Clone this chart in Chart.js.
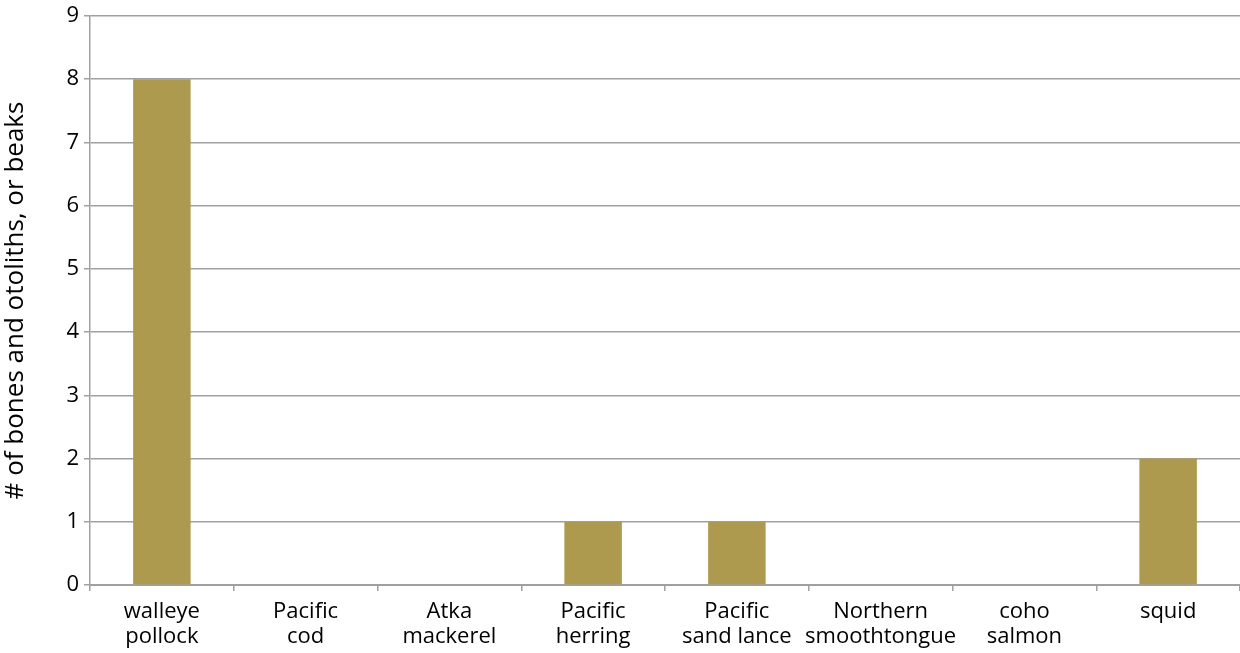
<!DOCTYPE html>
<html>
<head>
<meta charset="utf-8">
<script src="https://cdn.jsdelivr.net/npm/chart.js@4"></script>
<style>
  html, body { margin: 0; padding: 0; background: #fff; }
  #wrap { width: 1240px; height: 653px; position: relative; }
</style>
</head>
<body>
<div id="wrap"><canvas id="preyChart"></canvas></div>
<script>
const categories = [
  ['walleye', 'pollock'],
  ['Pacific', 'cod'],
  ['Atka', 'mackerel'],
  ['Pacific', 'herring'],
  ['Pacific', 'sand lance'],
  ['Northern', 'smoothtongue'],
  ['coho', 'salmon'],
  'squid'
];
const counts = [8, 0, 0, 1, 1, 0, 0, 2];
const yTicks = [0, 1, 2, 3, 4, 5, 6, 7, 8, 9];

const gridGray = '#a0a0a0';
const fontFamily = '"Open Sans", Lato, sans-serif';

document.addEventListener("DOMContentLoaded", () => {
  const ctx = document.getElementById('preyChart');
  if (!ctx) return;

  new Chart(ctx, {
    type: 'bar',
    data: {
      labels: categories,
      datasets: [{
        label: 'count',
        data: counts,
        backgroundColor: '#ad9a4e',
        borderWidth: 0,
        barPercentage: 0.4,
        categoryPercentage: 1
      }]
    },
    options: {
      responsive: true,
      maintainAspectRatio: false,
      animation: false,
      layout: { padding: { top: 15, right: 0, left: 0, bottom: 0 } },
      plugins: {
        legend: { display: false },
        tooltip: { enabled: false }
      },
      scales: {
        x: {
          grid: {
            display: true,
            drawOnChartArea: false,
            offset: true,
            color: gridGray,
            lineWidth: 1.5,
            tickLength: 6
          },
          border: { color: gridGray, width: 2 },
          ticks: {
            color: '#000',
            font: { family: fontFamily, size: 22, lineHeight: 1.15 },
            maxRotation: 0,
            autoSkip: false,
            padding: 8
          },
          afterFit: (scale) => { scale.height = 68; }
        },
        y: {
          min: 0,
          max: 9,
          afterBuildTicks: (scale) => {
            scale.ticks = yTicks.map(v => ({ value: v }));
          },
          grid: {
            color: gridGray,
            lineWidth: 1.5,
            tickLength: 6
          },
          border: { color: gridGray, width: 1.5 },
          ticks: {
            color: '#000',
            font: { family: fontFamily, size: 22, lineHeight: 1 },
            padding: 5
          },
          title: {
            display: true,
            text: '# of bones and otoliths, or beaks',
            color: '#000',
            font: { family: fontFamily, size: 26 },
            padding: { top: 0, bottom: 10 }
          },
          afterFit: (scale) => { scale.width = 90; }
        }
      }
    }
  });
});
</script>
</body>
</html>
